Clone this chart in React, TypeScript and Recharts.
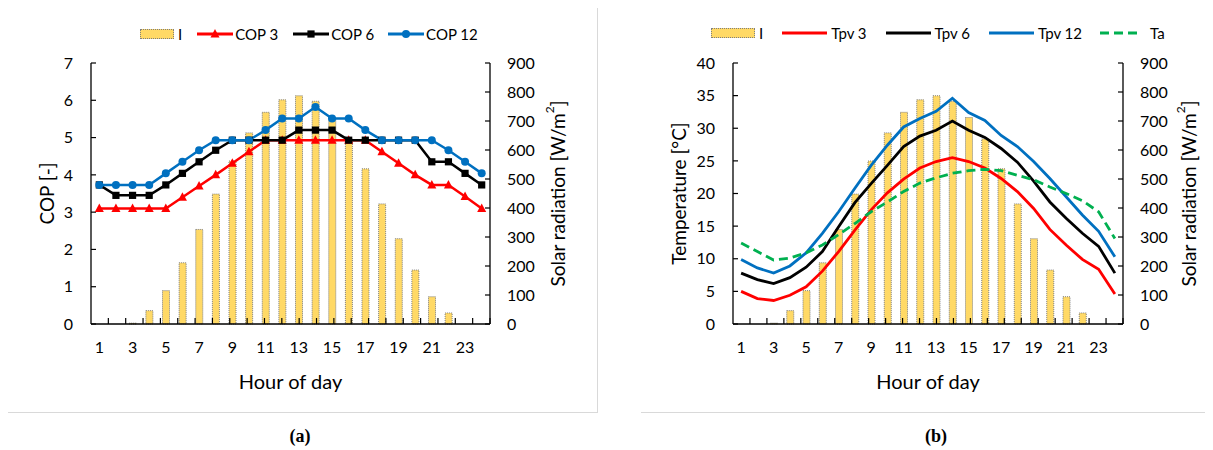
import React from 'react';
import { ComposedChart, Bar, Line, XAxis, YAxis } from 'recharts';

// hour of day (category axis)
const hours = [1, 2, 3, 4, 5, 6, 7, 8, 9, 10, 11, 12, 13, 14, 15, 16, 17, 18, 19, 20, 21, 22, 23, 24];
// solar radiation I [W/m2]
const irradiance = [0, 0, 3, 46, 115, 211, 326, 448, 562, 659, 730, 773, 787, 768, 712, 638, 535, 414, 294, 186, 94, 38, 0, 0];
// (a) COP
const cop3 = [3.1, 3.1, 3.1, 3.1, 3.1, 3.4, 3.7, 4.0, 4.31, 4.62, 4.93, 4.93, 4.93, 4.93, 4.93, 4.93, 4.93, 4.62, 4.31, 4.0, 3.73, 3.73, 3.42, 3.1];
const cop6 = [3.73, 3.45, 3.45, 3.45, 3.73, 4.04, 4.35, 4.66, 4.93, 4.93, 4.93, 4.93, 5.2, 5.2, 5.2, 4.93, 4.93, 4.93, 4.93, 4.93, 4.35, 4.35, 4.04, 3.73];
const cop12 = [3.73, 3.73, 3.73, 3.73, 4.04, 4.35, 4.66, 4.93, 4.93, 4.93, 5.2, 5.51, 5.51, 5.82, 5.51, 5.51, 5.2, 4.93, 4.93, 4.93, 4.93, 4.66, 4.35, 4.04];
// (b) temperatures [°C]
const tpv3 = [5.0, 3.9, 3.6, 4.4, 5.7, 8.1, 11.1, 14.4, 17.5, 20.1, 22.2, 23.9, 24.9, 25.5, 24.9, 23.9, 22.3, 20.3, 17.7, 14.5, 12.1, 9.9, 8.4, 4.6];
const tpv6 = [7.8, 6.8, 6.2, 7.1, 8.7, 11.1, 14.9, 18.6, 21.5, 24.3, 27.2, 28.8, 29.7, 31.1, 29.7, 28.6, 26.9, 24.8, 21.9, 18.7, 16.2, 13.9, 11.9, 7.8];
const tpv12 = [9.9, 8.6, 7.8, 8.9, 10.9, 13.9, 17.2, 20.8, 24.3, 27.4, 30.2, 31.5, 32.6, 34.6, 32.4, 31.2, 28.9, 27.2, 24.9, 22.3, 19.5, 16.7, 14.2, 10.3];
const ta = [12.4, 11.1, 9.8, 10.1, 10.9, 12.1, 13.7, 15.4, 17.2, 18.7, 20.3, 21.6, 22.4, 23.1, 23.5, 23.7, 23.5, 22.8, 22.1, 21.0, 20.0, 18.9, 17.2, 13.1];

const copTicks = [0, 1, 2, 3, 4, 5, 6, 7];
const tempTicks = [0, 5, 10, 15, 20, 25, 30, 35, 40];
const radTicks = [0, 100, 200, 300, 400, 500, 600, 700, 800, 900];
const boundaryTicks = hours.slice(0, 23);

const dataA = hours.map((h, i) => ({ hour: h, I: irradiance[i], cop3: cop3[i], cop6: cop6[i], cop12: cop12[i] }));
const dataB = hours.map((h, i) => ({ hour: h, I: irradiance[i], tpv3: tpv3[i], tpv6: tpv6[i], tpv12: tpv12[i], ta: ta[i] }));

const FONT = 'Lato, "Open Sans", sans-serif';
const RED = '#FF0000';
const BLUE = '#0070C0';
const GREEN = '#00B050';
const GOLD = '#FFD966';
const tickStyle = { fontSize: 16, fill: '#000', fontFamily: FONT };
const titleStyle = { fontSize: 19, fill: '#000', fontFamily: FONT };

// rotated y-axis title, placed relative to the axis line
const yTitle = (text: string, offset: (vb: any) => number, sup?: string, tail?: string) => (props: any) => {
  const vb = props.viewBox;
  const cx = offset(vb);
  const cy = vb.y + vb.height / 2;
  return (
    <text x={cx} y={cy} transform={`rotate(-90 ${cx} ${cy})`} textAnchor="middle" dominantBaseline="central" style={titleStyle}>
      {text}
      {sup && <tspan baselineShift="super" fontSize={12}>{sup}</tspan>}
      {tail && <tspan>{tail}</tspan>}
    </text>
  );
};

const xTitle = (props: any) => {
  const vb = props.viewBox;
  return (
    <text x={vb.x + vb.width / 2} y={vb.y + 64} textAnchor="middle" style={{ ...titleStyle, fontSize: 20 }}>Hour of day</text>
  );
};

// the boundary axis only shows its tick lines
const noLabel = (p: any) => <g key={p.index} />;

const triangleDot = (p: any) => (
  <polygon key={p.index} points={`${p.cx},${p.cy - 5} ${p.cx - 4.5},${p.cy + 3.5} ${p.cx + 4.5},${p.cy + 3.5}`} fill={RED} />
);
const squareDot = (p: any) => <rect key={p.index} x={p.cx - 3.6} y={p.cy - 3.6} width={7.2} height={7.2} fill="#000" />;
const circleDot = (p: any) => <circle key={p.index} cx={p.cx} cy={p.cy} r={4} fill={BLUE} />;

function BarSwatch({ w }: { w: number }) {
  return (
    <span style={{ display: 'inline-block', width: w, height: 10, background: GOLD, border: '1px dotted #7f7f7f', boxSizing: 'border-box' }} />
  );
}

function LineSwatch({ w, color, marker, dash }: { w: number; color: string; marker?: string; dash?: string }) {
  const c = w / 2;
  return (
    <svg width={w} height={12} style={{ display: 'block' }}>
      <line x1={0} y1={6} x2={w} y2={6} stroke={color} strokeWidth={3} strokeDasharray={dash} />
      {marker === 'tri' && <polygon points={`${c},1 ${c - 4.5},9.5 ${c + 4.5},9.5`} fill={color} />}
      {marker === 'sq' && <rect x={c - 3.6} y={2.4} width={7.2} height={7.2} fill={color} />}
      {marker === 'dot' && <circle cx={c} cy={6} r={4} fill={color} />}
    </svg>
  );
}

const legendRow: React.CSSProperties = {
  position: 'absolute', display: 'flex', alignItems: 'center', fontFamily: FONT, fontSize: 15, color: '#000', whiteSpace: 'nowrap',
};

const captionStyle: React.CSSProperties = {
  position: 'absolute', top: 426, textAlign: 'center', fontFamily: '"Liberation Serif", serif', fontWeight: 'bold', fontSize: 18,
};

export default function App() {
  return (
    <div style={{ position: 'relative', width: 1205, height: 450, marginTop: -8 }}>
      {/* (a) COP */}
      <div style={{ position: 'absolute', left: 0, top: 0, width: 590, height: 413, boxSizing: 'border-box', borderRight: '1px solid #d9d9d9', borderBottom: '1px solid #d9d9d9' }} />
      <div style={{ position: 'absolute', left: 0, top: 0 }}>
        <ComposedChart width={590} height={412} data={dataA} margin={{ top: 63, right: 10, left: 0, bottom: 0 }}>
          {/* tick marks between the hour categories */}
          <XAxis xAxisId="edge" type="number" domain={[0, 24]} ticks={boundaryTicks} interval={0} height={1}
            axisLine={{ stroke: '#000', strokeWidth: 1.3 }} tickSize={-6} tickLine={{ stroke: '#000', strokeWidth: 1.2 }} tick={noLabel} />
          <XAxis xAxisId="hour" dataKey="hour" interval={1} height={87} tickLine={false} tickSize={0} tickMargin={17}
            axisLine={false} tick={tickStyle} label={xTitle} />
          <YAxis yAxisId="cop" domain={[0, 7]} ticks={copTicks} width={83} tickSize={-5} tickMargin={23}
            axisLine={{ stroke: '#000', strokeWidth: 1.3 }} tickLine={{ stroke: '#000', strokeWidth: 1.2 }} tick={tickStyle}
            label={yTitle('COP [-]', (vb) => vb.x + vb.width - 45)} />
          <YAxis yAxisId="rad" orientation="right" domain={[0, 900]} ticks={radTicks} width={98} tickSize={-5} tickMargin={22}
            axisLine={{ stroke: '#000', strokeWidth: 1.3 }} tickLine={{ stroke: '#000', strokeWidth: 1.2 }} tick={tickStyle}
            label={yTitle('Solar radiation [W/m', (vb) => vb.x + 67, '2', ']')} />
          <Bar xAxisId="hour" yAxisId="rad" dataKey="I" barSize={7} fill={GOLD} stroke="#7f7f7f" strokeWidth={1} strokeDasharray="1 1" isAnimationActive={false} />
          <Line xAxisId="hour" yAxisId="cop" dataKey="cop3" stroke={RED} strokeWidth={2.5} dot={triangleDot} activeDot={false} isAnimationActive={false} />
          <Line xAxisId="hour" yAxisId="cop" dataKey="cop6" stroke="#000" strokeWidth={2.5} dot={squareDot} activeDot={false} isAnimationActive={false} />
          <Line xAxisId="hour" yAxisId="cop" dataKey="cop12" stroke={BLUE} strokeWidth={2.5} dot={circleDot} activeDot={false} isAnimationActive={false} />
        </ComposedChart>
      </div>
      <div style={{ ...legendRow, left: 132, top: 25 }}>
        <BarSwatch w={34} />
        <span style={{ marginLeft: 4 }}>I</span>
        <span style={{ marginLeft: 15 }}><LineSwatch w={36} color={RED} marker="tri" /></span>
        <span style={{ marginLeft: 2 }}>COP 3</span>
        <span style={{ marginLeft: 15 }}><LineSwatch w={36} color="#000" marker="sq" /></span>
        <span style={{ marginLeft: 2 }}>COP 6</span>
        <span style={{ marginLeft: 14 }}><LineSwatch w={36} color={BLUE} marker="dot" /></span>
        <span style={{ marginLeft: 2 }}>COP 12</span>
      </div>
      <div style={{ ...captionStyle, left: 0, width: 584 }}>(a)</div>

      {/* (b) temperatures */}
      <div style={{ position: 'absolute', left: 633, top: 0, width: 572, height: 413, boxSizing: 'border-box', borderBottom: '1px solid #d9d9d9' }} />
      <div style={{ position: 'absolute', left: 633, top: 0 }}>
        <ComposedChart width={572} height={412} data={dataB} margin={{ top: 63, right: 0, left: 0, bottom: 0 }}>
          <XAxis xAxisId="edge" type="number" domain={[0, 24]} ticks={boundaryTicks} interval={0} height={1}
            axisLine={{ stroke: '#000', strokeWidth: 1.3 }} tickSize={-6} tickLine={{ stroke: '#000', strokeWidth: 1.2 }} tick={noLabel} />
          <XAxis xAxisId="hour" dataKey="hour" interval={1} height={87} tickLine={false} tickSize={0} tickMargin={17}
            axisLine={false} tick={tickStyle} label={xTitle} />
          <YAxis yAxisId="temp" domain={[0, 40]} ticks={tempTicks} width={92} tickSize={-5} tickMargin={23}
            axisLine={{ stroke: '#000', strokeWidth: 1.3 }} tickLine={{ stroke: '#000', strokeWidth: 1.2 }} tick={tickStyle}
            label={yTitle('Temperature [°C]', (vb) => vb.x + vb.width - 55)} />
          <YAxis yAxisId="rad" orientation="right" domain={[0, 900]} ticks={radTicks} width={90} tickSize={-5} tickMargin={22}
            axisLine={{ stroke: '#000', strokeWidth: 1.3 }} tickLine={{ stroke: '#000', strokeWidth: 1.2 }} tick={tickStyle}
            label={yTitle('Solar radiation [W/m', (vb) => vb.x + 65, '2', ']')} />
          <Bar xAxisId="hour" yAxisId="rad" dataKey="I" barSize={7} fill={GOLD} stroke="#7f7f7f" strokeWidth={1} strokeDasharray="1 1" isAnimationActive={false} />
          <Line xAxisId="hour" yAxisId="temp" dataKey="tpv3" stroke={RED} strokeWidth={2.8} dot={false} activeDot={false} isAnimationActive={false} />
          <Line xAxisId="hour" yAxisId="temp" dataKey="tpv6" stroke="#000" strokeWidth={2.8} dot={false} activeDot={false} isAnimationActive={false} />
          <Line xAxisId="hour" yAxisId="temp" dataKey="tpv12" stroke={BLUE} strokeWidth={2.8} dot={false} activeDot={false} isAnimationActive={false} />
          <Line xAxisId="hour" yAxisId="temp" dataKey="ta" stroke={GREEN} strokeWidth={2.8} strokeDasharray="9 5" dot={false} activeDot={false} isAnimationActive={false} />
        </ComposedChart>
      </div>
      <div style={{ ...legendRow, left: 703, top: 24 }}>
        <BarSwatch w={44} />
        <span style={{ marginLeft: 4 }}>I</span>
        <span style={{ marginLeft: 19 }}><LineSwatch w={45} color={RED} /></span>
        <span style={{ marginLeft: 4 }}>Tpv 3</span>
        <span style={{ marginLeft: 19 }}><LineSwatch w={45} color="#000" /></span>
        <span style={{ marginLeft: 4 }}>Tpv 6</span>
        <span style={{ marginLeft: 19 }}><LineSwatch w={45} color={BLUE} /></span>
        <span style={{ marginLeft: 4 }}>Tpv 12</span>
        <span style={{ marginLeft: 18 }}><LineSwatch w={42} color={GREEN} dash="9 5" /></span>
        <span style={{ marginLeft: 8 }}>Ta</span>
      </div>
      <div style={{ ...captionStyle, left: 633, width: 590 }}>(b)</div>
    </div>
  );
}
